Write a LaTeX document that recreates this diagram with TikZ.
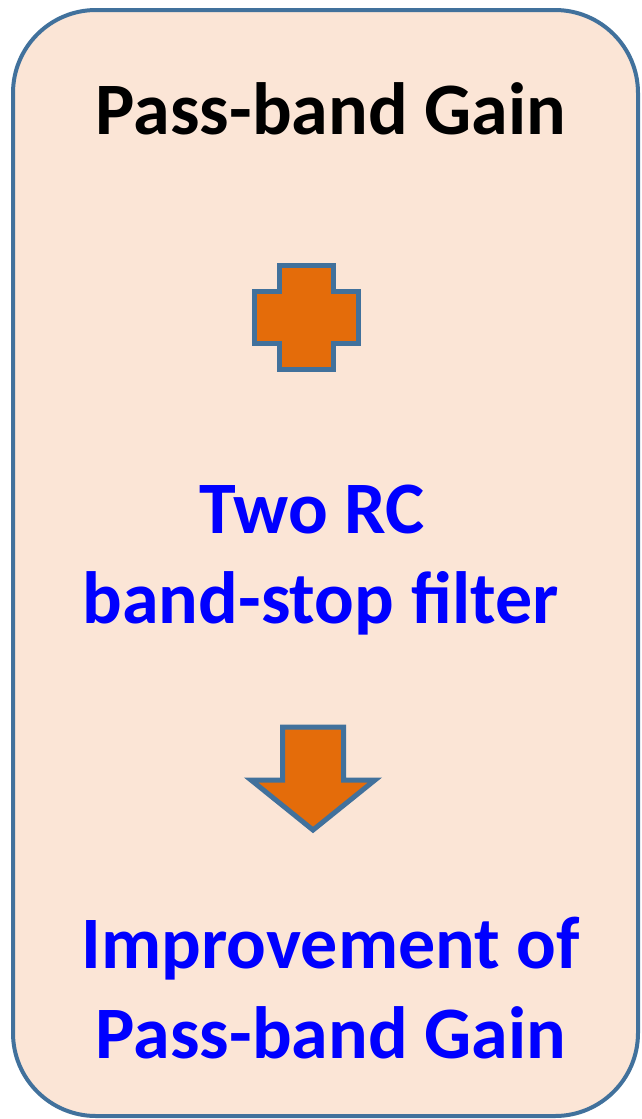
\documentclass[tikz,border=0pt]{standalone}
\usepackage{fontspec}
\setmainfont{Carlito}
\usetikzlibrary{positioning}

\definecolor{peach}{HTML}{FBE5D6}
\definecolor{frameblue}{HTML}{41719C}
\definecolor{markorange}{HTML}{E46C0A}
\definecolor{textblue}{HTML}{0000FF}

\tikzset{
  bigtext/.style={font=\fontsize{74}{90}\selectfont\bfseries, inner sep=0pt, anchor=base},
  markshape/.style={draw=frameblue, fill=markorange, line width=5pt, line join=miter}
}

\begin{document}
\begin{tikzpicture}[x=1pt, y=-1pt]
\useasboundingbox (0,0) rectangle (641,1119);

% outer panel
\draw [draw=frameblue, fill=peach, line width=4pt, rounded corners=83pt] (13,10) rectangle (638,1116);

\node [bigtext] (title) at (331,134) {Pass-band Gain};

% plus sign
\draw [markshape] (279.5,265) -- (333,265) -- (333,291) -- (358,291) -- (358,343) -- (333,343)
   -- (333,369) -- (279.5,369) -- (279.5,343) -- (254,343) -- (254,291) -- (279.5,291) -- cycle;

% base = baseline of the last line
\node [bigtext, text=textblue, align=center] (filter) at (320.5,623) {Two RC\hspace*{0.23em}\\band-stop filter};

% down arrow
\draw [markshape] (282.5,727) -- (343.5,727) -- (343.5,780) -- (375,780) -- (313,830)
   -- (251,780) -- (282.5,780) -- cycle;

\node [bigtext, text=textblue, align=center] (result) at (331,1058) {Improvement of\\Pass-band Gain};

\end{tikzpicture}
\end{document}
